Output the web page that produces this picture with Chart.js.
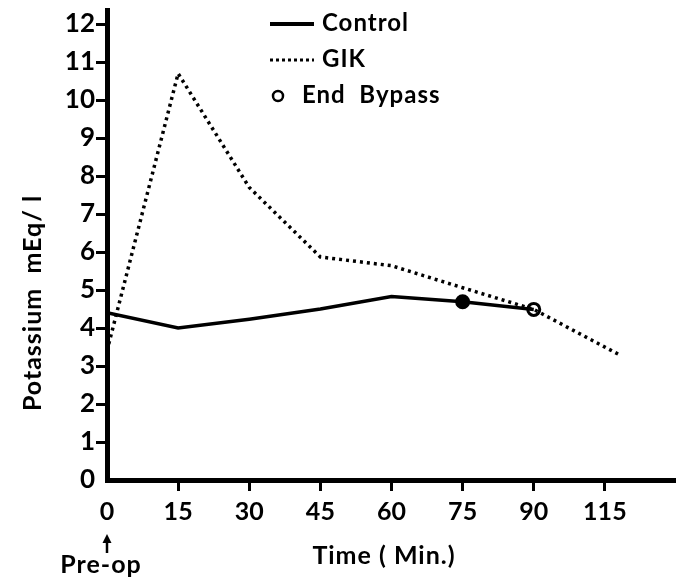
<!DOCTYPE html>
<html><head><meta charset="utf-8">
<script src="https://cdn.jsdelivr.net/npm/chart.js@4/dist/chart.umd.min.js"></script>
<style>html,body{margin:0;padding:0;background:#fff}#wrap{width:676px;height:581px}</style>
</head><body><div id="wrap"><canvas id="c" width="676" height="581"></canvas></div>
<script>
// ---- data ----
const xTickPositions = [0, 15, 30, 45, 60, 75, 90, 105];   // axis positions of ticks
const xTickLabels = ['0', '15', '30', '45', '60', '75', '90', '115'];
const yTicks = [0, 1, 2, 3, 4, 5, 6, 7, 8, 9, 10, 11, 12];
const controlTimes = [0, 15, 30, 45, 60, 75, 90];
const controlValues = [4.4, 4.0, 4.23, 4.5, 4.83, 4.69, 4.49];
const gikTimes = [0, 15, 30, 45, 60, 75, 90, 108];
const gikValues = [3.4, 10.7, 7.7, 5.87, 5.64, 5.06, 4.49, 3.3];
const bypassTimes = [75, 90];
const bypassValues = [4.69, 4.49];
const seriesNames = ['Control', 'GIK', 'End  Bypass'];
const xTitle = 'Time ( Min.)';
const yTitle = 'Potassium  mEq/ l';
const preOpLabel = 'Pre-op';

const FONT = 'Lato';
const pts = (xs, ys) => xs.map((x, i) => ({x, y: ys[i]}));

const overlay = {
  id: 'overlay',
  afterDraw(chart) {
    const c = chart.ctx;
    c.save();
    c.fillStyle = '#000'; c.strokeStyle = '#000';
    c.font = 'bold 25px ' + FONT;
    try { c.letterSpacing = '1px'; } catch (e) {}
    // y title
    c.save();
    c.translate(33, 303); c.rotate(-Math.PI / 2);
    c.textAlign = 'center'; c.textBaseline = 'middle';
    c.fillText(yTitle, 0, 0);
    c.restore();
    // x title
    c.textAlign = 'center'; c.textBaseline = 'middle';
    c.fillText(xTitle, 384, 556);
    // pre-op arrow + label
    c.lineWidth = 2.5;
    c.beginPath(); c.moveTo(107, 553); c.lineTo(107, 540); c.stroke();
    c.beginPath(); c.moveTo(107, 534); c.lineTo(102.5, 543); c.lineTo(111.5, 543); c.closePath(); c.fill();
    c.textBaseline = 'alphabetic';
    c.fillText(preOpLabel, 101, 573);
    // legend
    c.textAlign = 'left'; c.textBaseline = 'middle';
    c.font = 'bold 24px ' + FONT;
    c.lineWidth = 4;
    c.beginPath(); c.moveTo(270, 24); c.lineTo(314, 24); c.stroke();
    c.fillText(seriesNames[0], 322, 23);
    c.lineWidth = 3; c.setLineDash([3, 3]);
    c.beginPath(); c.moveTo(270, 60); c.lineTo(314, 60); c.stroke();
    c.setLineDash([]);
    c.fillText(seriesNames[1], 322, 59);
    c.lineWidth = 2.5;
    c.beginPath(); c.arc(278, 96, 5, 0, Math.PI * 2); c.stroke();
    c.fillText(seriesNames[2], 302, 95);
    c.restore();
  }
};

const tickColor = ctx => (ctx.tick && ctx.tick.value === 0) ? 'rgba(0,0,0,0)' : '#000';

new Chart(document.getElementById('c'), {
  type: 'line',
  data: {
    datasets: [
      {label: seriesNames[0], data: pts(controlTimes, controlValues), borderColor: '#000', borderWidth: 3.5,
       pointRadius: 0, tension: 0, fill: false},
      {label: seriesNames[1], data: pts(gikTimes, gikValues), borderColor: '#000', borderWidth: 3.5,
       borderDash: [3, 4], pointRadius: 0, tension: 0, fill: false},
      {label: seriesNames[2], data: pts(bypassTimes, bypassValues), showLine: false, pointRadius: 6,
       pointBorderWidth: 3, pointBorderColor: '#000', pointBackgroundColor: ['#000', '#fff']}
    ]
  },
  options: {
    responsive: false, animation: false, devicePixelRatio: 1,
    layout: {autoPadding: false, padding: {top: 10, left: 0, right: 0, bottom: 0}},
    plugins: {legend: {display: false}, tooltip: {enabled: false}},
    scales: {
      x: {
        type: 'linear', min: 0, max: 120,
        afterBuildTicks: s => { s.ticks = xTickPositions.map(v => ({value: v})); },
        afterFit: s => { s.height = 101; s.paddingLeft = 0; s.paddingRight = 0; },
        ticks: {callback: (v, i) => xTickLabels[i], font: {family: FONT, size: 25, weight: 'bold'},
                color: '#000', padding: 6, maxRotation: 0, autoSkip: false},
        grid: {drawOnChartArea: false, drawTicks: true, tickLength: 11, tickWidth: 3, color: tickColor},
        border: {display: true, width: 5, color: '#000'}
      },
      y: {
        type: 'linear', min: 0, max: 12.37,
        afterBuildTicks: s => { s.ticks = yTicks.map(v => ({value: v})); },
        afterFit: s => { s.width = 107; s.paddingTop = 0; s.paddingBottom = 0; },
        ticks: {font: {family: FONT, size: 26, weight: 'bold'}, color: '#000', padding: 1, autoSkip: false},
        grid: {drawOnChartArea: false, drawTicks: true, tickLength: 11, tickWidth: 3, color: tickColor},
        border: {display: true, width: 5, color: '#000'}
      }
    }
  },
  plugins: [overlay]
});
</script></body></html>
